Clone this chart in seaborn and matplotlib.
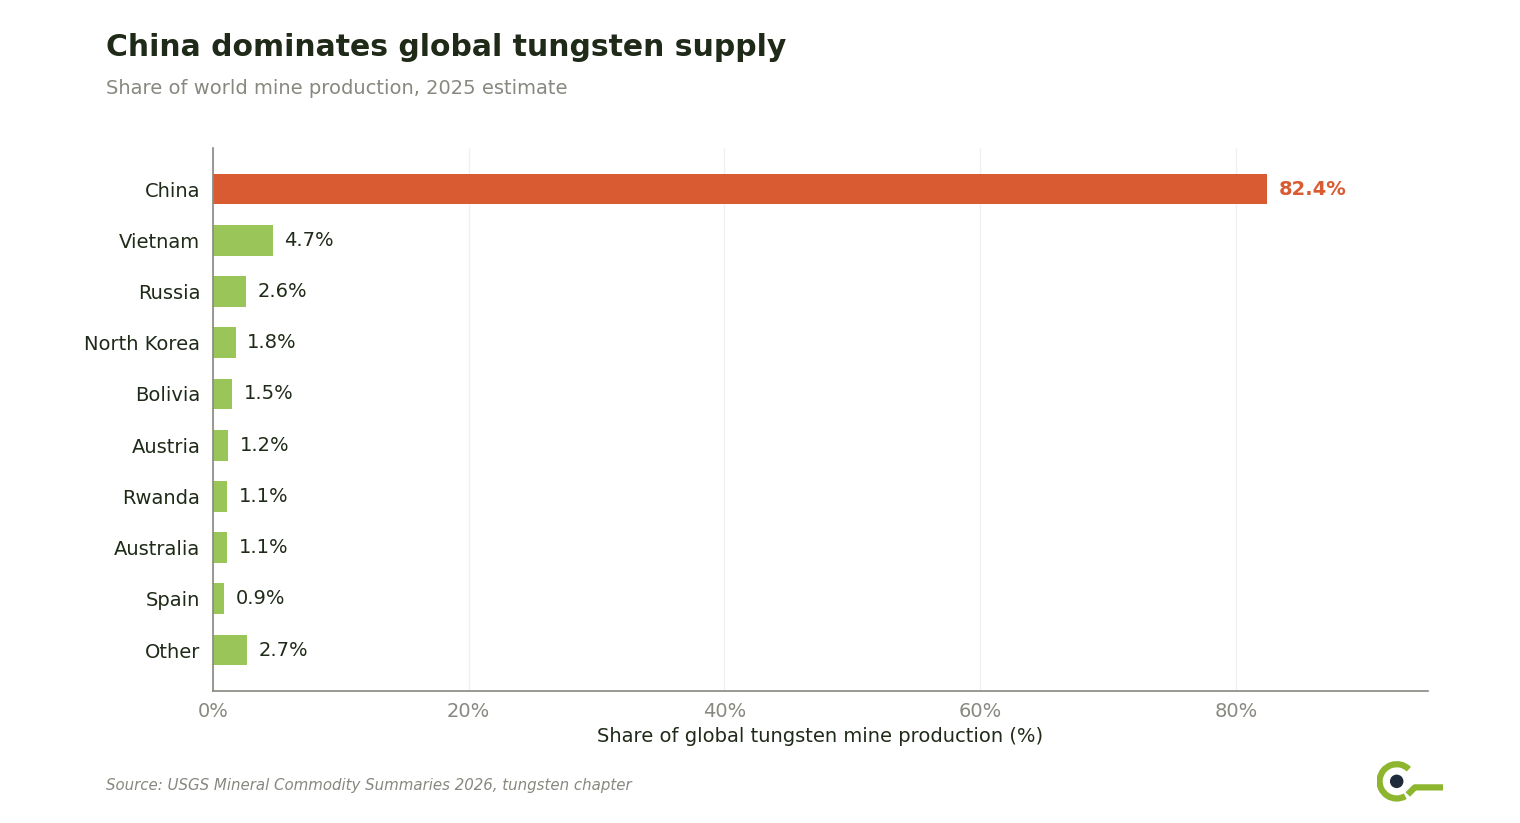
import matplotlib
matplotlib.use("Agg")
import matplotlib.pyplot as plt
import seaborn as sns
import pandas as pd
from matplotlib.patches import Arc, Circle
from matplotlib.lines import Line2D

countries = ["China", "Vietnam", "Russia", "North Korea", "Bolivia", "Austria",
             "Rwanda", "Australia", "Spain", "Other"]
shares = [82.4, 4.7, 2.6, 1.8, 1.5, 1.2, 1.1, 1.1, 0.9, 2.7]
xticks = [0, 20, 40, 60, 80]
xtick_labels = ["0%", "20%", "40%", "60%", "80%"]

RED = "#D85B32"
GREEN = "#9AC558"
DARK = "#1F2A18"
GRAY = "#888880"

sns.set_style("white")
plt.rcParams["font.family"] = ["DejaVu Sans"]

df = pd.DataFrame({"country": countries, "share": shares})
palette = {c: (RED if c == "China" else GREEN) for c in countries}

fig = plt.figure(figsize=(15.2, 8.23), dpi=100)
ax = fig.add_axes([0.140, 0.1604, 0.7995, 0.6596])

sns.barplot(data=df, x="share", y="country", hue="country", palette=palette,
            order=countries, hue_order=countries, legend=False, width=0.6,
            saturation=1, linewidth=0, ax=ax)

ax.set_xlim(0, 95)
ax.set_ylim(9.8, -0.8)
ax.set_xticks(xticks)
ax.set_xticklabels(xtick_labels)
ax.grid(axis="x", color="#F0F0F0", linewidth=1)
ax.set_axisbelow(True)
for s in ["top", "right"]:
    ax.spines[s].set_visible(False)
for s in ["left", "bottom"]:
    ax.spines[s].set_color(GRAY)
    ax.spines[s].set_linewidth(1.2)
ax.tick_params(axis="x", colors=GRAY, labelsize=14, length=5, width=1, pad=3)
ax.tick_params(axis="y", colors=GRAY, labelcolor=DARK, labelsize=14, length=5, width=1, pad=4)
ax.set_ylabel("")
ax.set_xlabel("Share of global tungsten mine production (%)", fontsize=14, color=DARK, labelpad=4)

for i, (c, v) in enumerate(zip(countries, shares)):
    if c == "China":
        ax.text(v + 0.9, i, f"{v:.1f}%", va="center", ha="left", fontsize=14,
                color=RED, fontweight="bold")
    else:
        ax.text(v + 0.9, i, f"{v:.1f}%", va="center", ha="left", fontsize=14, color=DARK)

fig.text(0.0697, 0.942, "China dominates global tungsten supply", fontsize=21.5,
         fontweight="bold", color=DARK, va="center", ha="left")
fig.text(0.0697, 0.892, "Share of world mine production, 2025 estimate", fontsize=14,
         color=GRAY, va="center", ha="left")
fig.text(0.0697, 0.046, "Source: USGS Mineral Commodity Summaries 2026, tungsten chapter",
         fontsize=10.8, color=GRAY, style="italic", va="center", ha="left")

# logo
lax = fig.add_axes([0.900, 0.020, 0.055, 0.06])
lax.set_xlim(0, 66)
lax.set_ylim(0, 49)
lax.set_aspect("equal")
lax.axis("off")
lax.add_patch(Arc((20, 25), 34, 34, theta1=45, theta2=300, color="#8DB52E", lw=4.5))
lax.add_patch(Circle((20, 25), 6, color="#1F2A3A"))
lax.add_line(Line2D([31, 38, 66], [12, 19, 19], color="#8DB52E", lw=4.5, solid_capstyle="butt"))

fig.savefig("out.png", dpi=100, facecolor="white")
